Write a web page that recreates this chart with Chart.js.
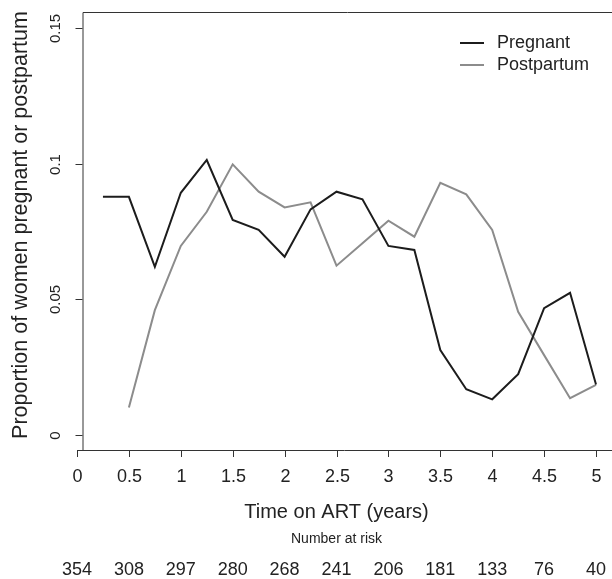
<!DOCTYPE html>
<html>
<head>
<meta charset="utf-8">
<script src="https://cdn.jsdelivr.net/npm/chart.js@4"></script>
<style>
  html, body { margin: 0; padding: 0; background: #fff; }
  #wrap { width: 612px; height: 579px; }
</style>
</head>
<body>
<div id="wrap"><canvas id="chart" width="612" height="579"></canvas></div>
<script>
// ---- data ----
const timePoints = [0.25, 0.5, 0.75, 1, 1.25, 1.5, 1.75, 2, 2.25, 2.5, 2.75, 3, 3.25, 3.5, 3.75, 4, 4.25, 4.5, 4.75, 5];
const pregnant = [0.0877, 0.0877, 0.0619, 0.0892, 0.1013, 0.0792, 0.0755, 0.0656, 0.0831, 0.0896,
                  0.0868, 0.0696, 0.0681, 0.0312, 0.0167, 0.0130, 0.0223, 0.0466, 0.0523, 0.0185];
const postpartum = [null, 0.0100, 0.0459, 0.0696, 0.0822, 0.0997, 0.0896, 0.0838, 0.0857, 0.0623,
                    0.0706, 0.0789, 0.0730, 0.0929, 0.0886, 0.0755, 0.0453, 0.0293, 0.0134, 0.0183];

const xTicks = [0, 0.5, 1, 1.5, 2, 2.5, 3, 3.5, 4, 4.5, 5];
const xTickLabels = ["0", "0.5", "1", "1.5", "2", "2.5", "3", "3.5", "4", "4.5", "5"];
const yTicks = [0, 0.05, 0.1, 0.15];
const yTickLabels = ["0", "0.05", "0.1", "0.15"];
const numberAtRisk = [354, 308, 297, 280, 268, 241, 206, 181, 133, 76, 40];

const seriesNames = ["Pregnant", "Postpartum"];
const seriesColors = ["#1c1c1c", "#8c8c8c"];

const FONT = "'Liberation Sans', Arial, Helvetica, sans-serif";
const TEXT = "#222";

function toPoints(values) {
  return timePoints.map((t, i) => ({ x: t, y: values[i] }));
}

// draws R-style axes, box, labels, legend and risk table
const axesPlugin = {
  id: "rAxes",
  afterDraw(chart) {
    const ctx = chart.ctx;
    const area = chart.chartArea;
    const xs = chart.scales.x;
    const ys = chart.scales.y;
    const boxLeft = area.left + 5.5;

    ctx.save();
    ctx.strokeStyle = "#333";
    ctx.lineWidth = 1;

    // box: top, left, bottom (right edge runs off canvas)
    ctx.beginPath();
    ctx.moveTo(area.right, area.top + 0.5);
    ctx.lineTo(boxLeft + 0.5, area.top + 0.5);
    ctx.lineTo(boxLeft + 0.5, area.bottom + 0.5);
    ctx.moveTo(area.left, area.bottom + 0.5);
    ctx.lineTo(area.right, area.bottom + 0.5);
    ctx.stroke();

    // x ticks
    ctx.fillStyle = TEXT;
    ctx.font = "18px " + FONT;
    ctx.textAlign = "center";
    ctx.textBaseline = "middle";
    xTicks.forEach((v, i) => {
      const px = Math.round(xs.getPixelForValue(v)) + 0.5;
      ctx.beginPath();
      ctx.moveTo(px, area.bottom);
      ctx.lineTo(px, area.bottom + 7);
      ctx.stroke();
      ctx.fillText(xTickLabels[i], px, area.bottom + 27);
    });

    // y ticks, labels rotated like base R
    ctx.font = "15px " + FONT;
    yTicks.forEach((v, i) => {
      const py = Math.round(ys.getPixelForValue(v)) + 0.5;
      ctx.beginPath();
      ctx.moveTo(boxLeft, py);
      ctx.lineTo(boxLeft - 7, py);
      ctx.stroke();
      ctx.save();
      ctx.translate(56, py);
      ctx.rotate(-Math.PI / 2);
      ctx.fillText(yTickLabels[i], 0, 0);
      ctx.restore();
    });

    // axis titles
    ctx.font = "20px " + FONT;
    const xMid = (xs.getPixelForValue(0) + xs.getPixelForValue(5)) / 2;
    ctx.fillText("Time on ART (years)", xMid, area.bottom + 62);
    ctx.save();
    ctx.font = "21.5px " + FONT;
    ctx.translate(21, 225);
    ctx.rotate(-Math.PI / 2);
    ctx.fillText("Proportion of women pregnant or postpartum", 0, 0);
    ctx.restore();

    // number at risk table
    ctx.font = "14px " + FONT;
    ctx.fillText("Number at risk", xMid, area.bottom + 89);
    ctx.font = "18px " + FONT;
    xTicks.forEach((v, i) => {
      ctx.fillText(String(numberAtRisk[i]), xs.getPixelForValue(v), area.bottom + 120);
    });

    // legend
    ctx.font = "18px " + FONT;
    ctx.textAlign = "left";
    ctx.lineWidth = 2;
    seriesNames.forEach((name, i) => {
      const ly = 43 + i * 22;
      ctx.strokeStyle = seriesColors[i];
      ctx.beginPath();
      ctx.moveTo(460, ly);
      ctx.lineTo(484, ly);
      ctx.stroke();
      ctx.fillText(name, 497, ly);
    });

    ctx.restore();
  }
};

new Chart(document.getElementById("chart"), {
  type: "line",
  data: {
    datasets: [
      {
        label: seriesNames[0],
        data: toPoints(pregnant),
        borderColor: seriesColors[0],
        borderWidth: 2,
        pointRadius: 0,
        tension: 0
      },
      {
        label: seriesNames[1],
        data: toPoints(postpartum),
        borderColor: seriesColors[1],
        borderWidth: 2,
        pointRadius: 0,
        tension: 0,
        spanGaps: false
      }
    ]
  },
  options: {
    responsive: false,
    animation: false,
    layout: { padding: { left: 77, top: 12, right: 0, bottom: 129 } },
    plugins: {
      legend: { display: false },
      tooltip: { enabled: false }
    },
    scales: {
      x: { type: "linear", min: 0, max: 5.154, display: false },
      y: { type: "linear", min: -0.0057, max: 0.1559, display: false }
    }
  },
  plugins: [axesPlugin]
});
</script>
</body>
</html>
